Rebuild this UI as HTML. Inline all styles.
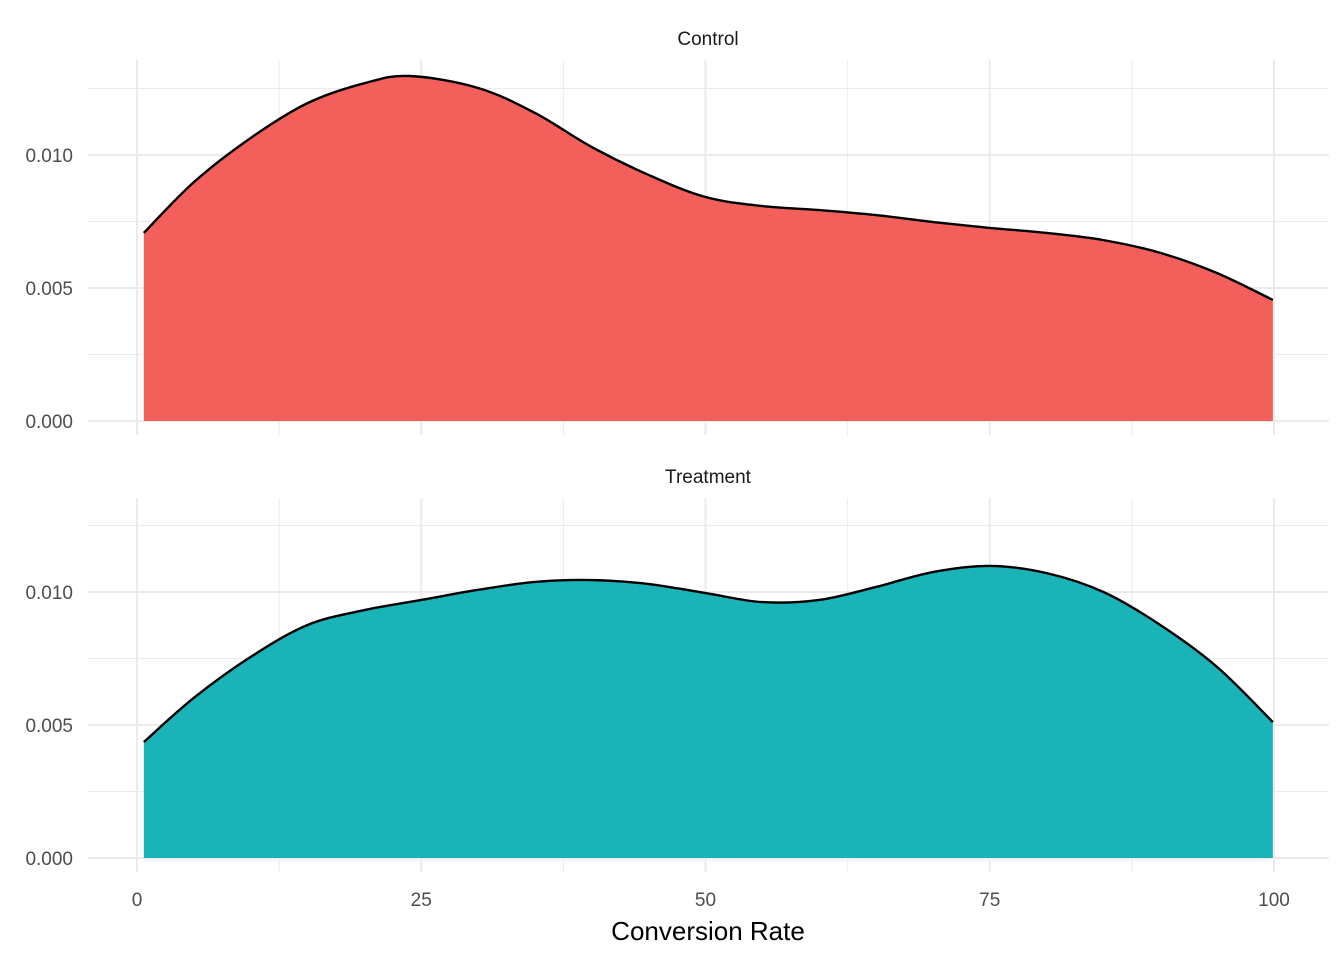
<!DOCTYPE html>
<html><head><meta charset="utf-8"><style>
html,body{margin:0;padding:0;background:#fff;}
svg text{font-family:"Liberation Sans",Arial,sans-serif;}
</style></head><body>
<svg id="chart" width="1344" height="960" xmlns="http://www.w3.org/2000/svg"></svg>
<script>
const xValues = [0.6,5,10,15,20,24,30,35,40,45,50,55,60,65,70,75,80,85,90,95,99.9];
const controlDensity = [0.00707,0.00898,0.01064,0.01195,0.0127,0.01297,0.01252,0.01158,0.0103,0.00925,0.00842,0.00808,0.00793,0.00774,0.00748,0.00726,0.00707,0.0068,0.00632,0.00556,0.00455];
const xValuesT = [0.6,5,10,15,20,25,30,35,40,45,50,55,60,65,70,75,80,85,90,95,99.9];
const treatmentDensity = [0.00436,0.00602,0.00756,0.00876,0.00932,0.0097,0.01008,0.01038,0.01045,0.0103,0.00996,0.00962,0.0097,0.01019,0.01075,0.01098,0.01071,0.01,0.00876,0.00718,0.00511];
const xTicks = [0,25,50,75,100];
const yTicks = [0,0.005,0.010];
const yTickLabels = ["0.000","0.005","0.010"];
const panels = [
  {name:"Control", xv:xValues, values:controlDensity, fill:"#F3605B", y0:421, top:60, bottom:435, strip:38},
  {name:"Treatment", xv:xValuesT, values:treatmentDensity, fill:"#1AB3B8", y0:858, top:498, bottom:872, strip:476}
];
const NS="http://www.w3.org/2000/svg";
const svg=document.getElementById('chart');
const xs=v=>137+v*11.37;
const yScale=(p,v)=>p.y0-v*26600;
function mk(tag,attrs,parent){const e=document.createElementNS(NS,tag);for(const k in attrs)e.setAttribute(k,attrs[k]);(parent||svg).appendChild(e);return e;}
function smooth(pts){let d=`M${pts[0][0]},${pts[0][1]}`;for(let i=0;i<pts.length-1;i++){const p0=pts[Math.max(0,i-1)],p1=pts[i],p2=pts[i+1],p3=pts[Math.min(pts.length-1,i+2)];d+=` C${p1[0]+(p2[0]-p0[0])/6},${p1[1]+(p2[1]-p0[1])/6} ${p2[0]-(p3[0]-p1[0])/6},${p2[1]-(p3[1]-p1[1])/6} ${p2[0]},${p2[1]}`;}return d;}
panels.forEach(p=>{
  const g=mk('g',{});
  
  
  for(let i=0;i<xTicks.length-1;i++){const m=(xTicks[i]+xTicks[i+1])/2;const l=mk('line',{x1:xs(m),x2:xs(m),y1:p.top,y2:p.bottom,stroke:'#EBEBEB','stroke-width':1},g);}
  for(let i=0;i<yTicks.length;i++){const m=yTicks[i]+0.0025;const l=mk('line',{x1:88,x2:1329,y1:yScale(p,m),y2:yScale(p,m),stroke:'#EBEBEB','stroke-width':1},g);}
  xTicks.forEach(t=>{const l=mk('line',{x1:xs(t),x2:xs(t),y1:p.top,y2:p.bottom,stroke:'#EBEBEB','stroke-width':2},g);});
  yTicks.forEach((t,i)=>{const l=mk('line',{x1:88,x2:1329,y1:yScale(p,t),y2:yScale(p,t),stroke:'#EBEBEB','stroke-width':2},g);
    const tx=mk('text',{x:73,y:yScale(p,t)+7,'text-anchor':'end','font-size':19,fill:'#4D4D4D'},g);tx.textContent=yTickLabels[i];});
  const pts=p.xv.map((x,i)=>[xs(x),yScale(p,p.values[i])]);
  const line=smooth(pts);
  const area=mk('path',{d:line+` L${xs(p.xv[p.xv.length-1])},${p.y0} L${xs(p.xv[0])},${p.y0} Z`,fill:p.fill},g);
  
  const ln=mk('path',{d:line,fill:'none',stroke:'#000','stroke-width':2.4},g);
  
  const st=mk('text',{x:708,y:p.strip+7,'text-anchor':'middle','font-size':19,fill:'#1A1A1A'},g);st.textContent=p.name;
  
});
xTicks.forEach(t=>{const tx=mk('text',{x:xs(t),y:906,'text-anchor':'middle','font-size':19,fill:'#4D4D4D'});tx.textContent=t;});
const title=mk('text',{x:708,y:940,'text-anchor':'middle','font-size':26,fill:'#000'});title.textContent='Conversion Rate';


</script>
</body></html>
